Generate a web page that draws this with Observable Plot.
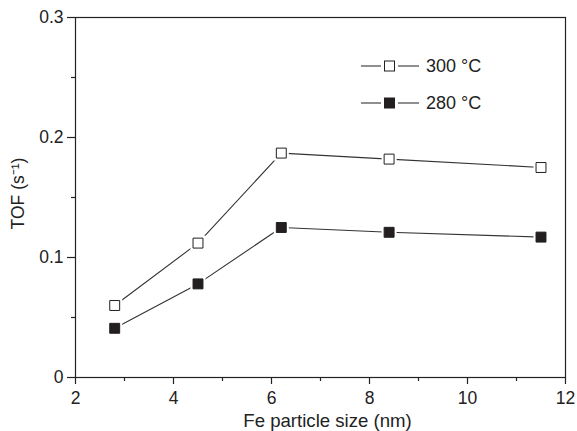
<!DOCTYPE html>
<html>
<head>
<meta charset="utf-8">
<script src="https://cdn.jsdelivr.net/npm/d3@7"></script>
<script src="https://cdn.jsdelivr.net/npm/@observablehq/plot@0.6"></script>
<style>
  html, body { margin: 0; padding: 0; background: #fff; }
  #wrap { position: relative; width: 577px; height: 431px; font-family: "Liberation Sans", Arial, sans-serif; }
  #legend { position: absolute; left: 0; top: 0; }
</style>
</head>
<body>
<div id="wrap"></div>
<script>
const sizes = [2.8, 4.5, 6.2, 8.4, 11.5];
const tof300 = [0.060, 0.112, 0.187, 0.182, 0.175];
const tof280 = [0.041, 0.078, 0.125, 0.121, 0.117];
const seriesNames = ["300 °C", "280 °C"];
const xTicks = [2, 4, 6, 8, 10, 12];
const xMinor = [3, 5, 7, 9, 11];
const yTicks = [0, 0.1, 0.2, 0.3];
const yMinor = [0.05, 0.15, 0.25];
const xLabel = "Fe particle size (nm)";
const yLabel = "TOF (s\u207B\u00B9)";

const data = [
  ...sizes.map((s, i) => ({size: s, tof: tof300[i], series: seriesNames[0]})),
  ...sizes.map((s, i) => ({size: s, tof: tof280[i], series: seriesNames[1]}))
];
const fillOf = {"300 °C": "#ffffff", "280 °C": "#231f20"};

const lineColor = "#333";
const fontFam = "Liberation Sans, Arial, sans-serif";

const chart = Plot.plot({
  width: 577,
  height: 431,
  marginTop: 17,
  marginRight: 12,
  marginBottom: 54,
  marginLeft: 75,
  style: {fontFamily: fontFam, fontSize: "17px", color: "#222", background: "#fff"},
  x: {domain: [2, 12]},
  y: {domain: [0, 0.3]},
  marks: [
    Plot.frame({stroke: "#222", strokeWidth: 1.2}),
    Plot.axisX({ticks: xTicks, tickSize: 7, tickPadding: 7, fontSize: 17.5, label: null, tickFormat: d => String(d), stroke: "#222", strokeWidth: 1.2}),
    Plot.axisX({ticks: xMinor, tickSize: 4, tickFormat: () => "", label: null, stroke: "#222", strokeWidth: 1.2}),
    Plot.axisY({ticks: yTicks, tickSize: 8, tickPadding: 4, fontSize: 17.5, label: null, tickFormat: d => d === 0 ? "0" : d.toFixed(1), stroke: "#222", strokeWidth: 1.2}),
    Plot.axisY({ticks: yMinor, tickSize: 4, tickFormat: () => "", label: null, stroke: "#222", strokeWidth: 1.2}),
    Plot.line(data, {x: "size", y: "tof", z: "series", stroke: lineColor, strokeWidth: 1.1}),
    Plot.dot(data, {x: "size", y: "tof", symbol: "square", r: 8.5, fill: "#fff", stroke: "none"}),
    Plot.dot(data, {x: "size", y: "tof", symbol: "square", r: 5.6, fill: d => fillOf[d.series], stroke: "#231f20", strokeWidth: 1}),
    Plot.text([xLabel], {frameAnchor: "bottom", lineAnchor: "middle", textAnchor: "middle", dx: 7, dy: 44, text: d => d, fontSize: 18.6, fill: "#222"}),
    Plot.text([yLabel], {frameAnchor: "left", lineAnchor: "middle", textAnchor: "middle", dx: -57, dy: -4, rotate: -90, text: d => d, fontSize: 17.5, fill: "#222"})
  ]
});

const wrap = document.getElementById("wrap");
wrap.appendChild(chart);

// Legend overlay
const leg = d3.select(wrap).append("svg")
  .attr("id", "legend")
  .attr("width", 577).attr("height", 431)
  .style("pointer-events", "none");
const rowY = [66, 103];
seriesNames.forEach((name, i) => {
  const g = leg.append("g").attr("transform", `translate(0,${rowY[i]})`);
  g.append("line").attr("x1", 361).attr("x2", 381).attr("y1", 0).attr("y2", 0).attr("stroke", lineColor).attr("stroke-width", 1.1);
  g.append("line").attr("x1", 398).attr("x2", 419).attr("y1", 0).attr("y2", 0).attr("stroke", lineColor).attr("stroke-width", 1.1);
  g.append("rect").attr("x", 389.5 - 5).attr("y", -5).attr("width", 10).attr("height", 10)
    .attr("fill", fillOf[name]).attr("stroke", "#231f20").attr("stroke-width", 1);
  g.append("text").attr("x", 426).attr("y", 0).attr("dy", "0.35em")
    .attr("font-family", fontFam).attr("font-size", 18).attr("fill", "#222").text(name);
});
</script>
</body>
</html>
